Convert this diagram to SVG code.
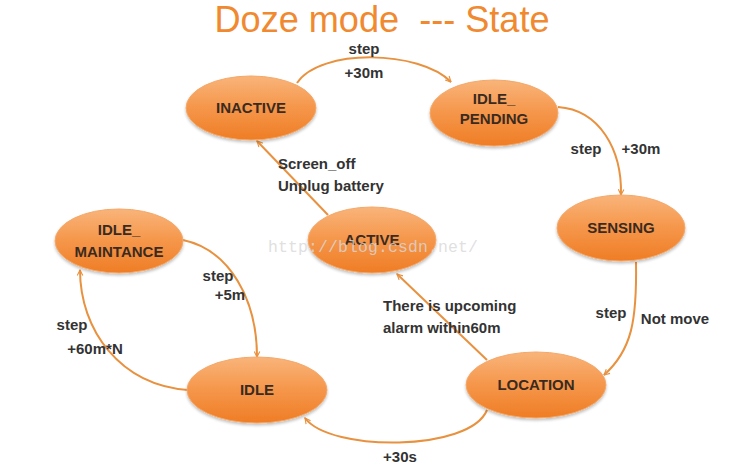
<svg xmlns="http://www.w3.org/2000/svg" width="730" height="474" viewBox="0 0 730 474">
<defs>
<linearGradient id="g" x1="0" y1="0" x2="0" y2="1">
<stop offset="0" stop-color="#f9b47a"/>
<stop offset="0.5" stop-color="#f5964a"/>
<stop offset="1" stop-color="#ef7d25"/>
</linearGradient>
<marker id="arr" viewBox="0 0 10 10" refX="9" refY="5" markerWidth="7" markerHeight="7" orient="auto" markerUnits="userSpaceOnUse">
<path d="M1,1 L9,5 L1,9" fill="none" stroke="#e8913f" stroke-width="1.6"/>
</marker>
<filter id="sh" x="-20%" y="-20%" width="140%" height="150%">
<feGaussianBlur in="SourceAlpha" stdDeviation="1.5"/>
<feOffset dx="0" dy="2"/>
<feComponentTransfer><feFuncA type="linear" slope="0.25"/></feComponentTransfer>
<feMerge><feMergeNode/><feMergeNode in="SourceGraphic"/></feMerge>
</filter>
</defs>
<style>
.n ellipse{fill:url(#g);stroke:#f4a868;stroke-width:1;filter:url(#sh)}
.n text{font-family:"Liberation Sans",Arial,sans-serif;font-weight:bold;font-size:15px;fill:#3a2a20;text-anchor:middle}
.e path{fill:none;stroke:#e8913f;stroke-width:2;marker-end:url(#arr)}
.l{font-family:"Liberation Sans",Arial,sans-serif;font-weight:bold;font-size:15px;fill:#333}
.m{text-anchor:middle}
</style>
<rect width="730" height="474" fill="#fff"/>
<text x="382" y="32" font-family="'Liberation Sans',Arial,sans-serif" font-size="37" fill="#f0892f" text-anchor="middle" textLength="335" lengthAdjust="spacingAndGlyphs" xml:space="preserve">Doze mode  --- State</text>
<g class="e">
<path d="M297,83 C 320,48 420,50 451,82"/>
<path d="M558,107 C 600,110 622,150 621,195"/>
<path d="M636,262 C 637,320 632,350 604,375"/>
<path d="M487,410 C 470,452 330,452 305,418"/>
<path d="M188,390 C 120,385 80,330 80,270"/>
<path d="M183,240 C 230,250 257,300 257,357"/>
<path d="M328,215 L 257,141"/>
<path d="M487,360 L 397,274"/>
</g>
<g id="inactive" class="n"><ellipse cx="251" cy="108" rx="65" ry="32"/><text x="251" y="113">INACTIVE</text></g>
<g id="idle_pending" class="n"><ellipse cx="494" cy="113" rx="64" ry="33"/><text x="494" y="104">IDLE_</text><text x="494" y="124">PENDING</text></g>
<g id="sensing" class="n"><ellipse cx="621" cy="228" rx="64" ry="33"/><text x="621" y="233">SENSING</text></g>
<g id="location" class="n"><ellipse cx="536" cy="385" rx="70" ry="33"/><text x="536" y="390">LOCATION</text></g>
<g id="active" class="n"><ellipse cx="372" cy="240" rx="64" ry="33"/><text x="372" y="245">ACTIVE</text></g>
<g id="idle_maintance" class="n"><ellipse cx="119" cy="241" rx="64" ry="32"/><text x="119" y="235">IDLE_</text><text x="119" y="257">MAINTANCE</text></g>
<g id="idle" class="n"><ellipse cx="257" cy="390" rx="70" ry="33"/><text x="257" y="395">IDLE</text></g>
<g id="labels">
<text class="l m" x="364" y="54">step</text>
<text class="l m" x="364" y="78">+30m</text>
<text class="l m" x="586" y="154">step</text>
<text class="l m" x="641" y="154">+30m</text>
<text class="l m" x="611" y="318">step</text>
<text class="l m" x="675" y="324">Not move</text>
<text class="l m" x="400" y="462">+30s</text>
<text class="l m" x="218" y="281">step</text>
<text class="l m" x="230" y="300">+5m</text>
<text class="l m" x="72" y="330">step</text>
<text class="l m" x="95" y="354">+60m*N</text>
<text class="l" x="278" y="169">Screen_off</text>
<text class="l" x="278" y="191">Unplug battery</text>
<text class="l" x="383" y="311">There is upcoming</text>
<text class="l" x="383" y="333">alarm within60m</text>
</g>
<text x="268" y="252" font-family="'Liberation Mono','DejaVu Sans Mono',monospace" font-size="16.5" fill="#d8d8d8" fill-opacity="0.8" textLength="210">http://blog.csdn.net/</text>
</svg>
